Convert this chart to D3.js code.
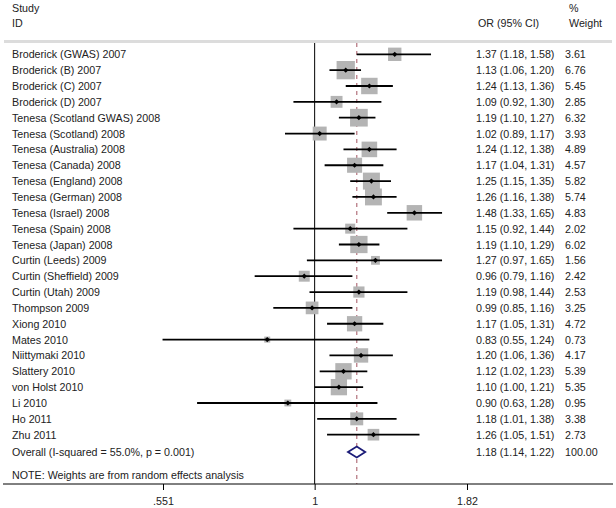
<!DOCTYPE html>
<html><head><meta charset="utf-8">
<script src="https://cdn.jsdelivr.net/npm/d3@7/dist/d3.min.js"></script>
<style>
body{margin:0;background:#fff;}
text{font-family:"Liberation Sans",Arial,sans-serif;font-size:10.7px;fill:#222;}
</style></head>
<body><svg id="c" width="616" height="508"></svg>
<script>
const studies = ["Broderick (GWAS) 2007","Broderick (B) 2007","Broderick (C) 2007","Broderick (D) 2007","Tenesa (Scotland GWAS) 2008","Tenesa (Scotland) 2008","Tenesa (Australia) 2008","Tenesa (Canada) 2008","Tenesa (England) 2008","Tenesa (German) 2008","Tenesa (Israel) 2008","Tenesa (Spain) 2008","Tenesa (Japan) 2008","Curtin (Leeds) 2009","Curtin (Sheffield) 2009","Curtin (Utah) 2009","Thompson 2009","Xiong 2010","Mates 2010","Niittymaki 2010","Slattery 2010","von Holst 2010","Li 2010","Ho 2011","Zhu 2011"];
const or  = [1.37,1.13,1.24,1.09,1.19,1.02,1.24,1.17,1.25,1.26,1.48,1.15,1.19,1.27,0.96,1.19,0.99,1.17,0.83,1.20,1.12,1.10,0.90,1.18,1.26];
const lo  = [1.18,1.06,1.13,0.92,1.10,0.89,1.12,1.04,1.15,1.16,1.33,0.92,1.10,0.97,0.79,0.98,0.85,1.05,0.55,1.06,1.02,1.00,0.63,1.01,1.05];
const hi  = [1.58,1.20,1.36,1.30,1.27,1.17,1.38,1.31,1.35,1.38,1.65,1.44,1.29,1.65,1.16,1.44,1.16,1.31,1.24,1.36,1.23,1.21,1.28,1.38,1.51];
const weight = [3.61,6.76,5.45,2.85,6.32,3.93,4.89,4.57,5.82,5.74,4.83,2.02,6.02,1.56,2.42,2.53,3.25,4.72,0.73,4.17,5.39,5.35,0.95,3.38,2.73];
const overall = {label:"Overall  (I-squared = 55.0%, p = 0.001)", or:1.18, lo:1.14, hi:1.22, weight:"100.00"};
const tickVals = [0.551, 1, 1.82];
const tickLabels = [".551", "1", "1.82"];

const svg = d3.select("#c");
const x = d3.scaleLog().domain([0.551, 1.82]).range([163, 467]);
const y = d3.scalePoint().domain(d3.range(studies.length)).range([54.3, 434.7]);
const yOverall = 452;
const axisY = 484, topY = 43;
const fmt = d3.format(".2f");

// header
svg.append("text").attr("x",12).attr("y",12).text("Study");
svg.append("text").attr("x",12).attr("y",27).text("ID");
svg.append("text").attr("x",478).attr("y",27).text("OR (95% CI)");
svg.append("text").attr("x",569).attr("y",12).text("%");
svg.append("text").attr("x",569).attr("y",27).text("Weight");
svg.append("line").attr("x1",4).attr("x2",612).attr("y1",41.5).attr("y2",41.5)
  .attr("stroke","#dcdcdc").attr("stroke-width",3);

// reference lines
svg.append("line").attr("x1",x(1)).attr("x2",x(1)).attr("y1",topY).attr("y2",axisY)
  .attr("stroke","#000").attr("stroke-width",1);
svg.append("line").attr("x1",x(overall.or)).attr("x2",x(overall.or)).attr("y1",topY).attr("y2",axisY)
  .attr("stroke","#b87c86").attr("stroke-width",1.3).attr("stroke-dasharray","4,4");

// boxes
const side = w => 7.04*Math.sqrt(w);
const g = svg.append("g");
g.selectAll("rect.box").data(studies).join("rect").attr("class","box")
  .attr("x",(d,i)=>x(or[i])-side(weight[i])/2).attr("y",(d,i)=>y(i)-side(weight[i])/2)
  .attr("width",(d,i)=>side(weight[i])).attr("height",(d,i)=>side(weight[i]))
  .attr("fill","#b4b4b4");
g.selectAll("line.ci").data(studies).join("line").attr("class","ci")
  .attr("x1",(d,i)=>x(lo[i])).attr("x2",(d,i)=>x(hi[i]))
  .attr("y1",(d,i)=>y(i)).attr("y2",(d,i)=>y(i))
  .attr("stroke","#000").attr("stroke-width",1.8);
g.selectAll("path.pt").data(studies).join("path").attr("class","pt")
  .attr("d",(d,i)=>{const cx=x(or[i]), cy=y(i), r=2.6; return `M${cx},${cy-r}L${cx+r},${cy}L${cx},${cy+r}L${cx-r},${cy}Z`;})
  .attr("fill","#000");

// text columns
g.selectAll("text.name").data(studies).join("text").attr("class","name")
  .attr("x",12).attr("y",(d,i)=>y(i)+4).text(d=>d);
g.selectAll("text.or").data(studies).join("text").attr("class","or")
  .attr("x",476).attr("y",(d,i)=>y(i)+4).text((d,i)=>`${fmt(or[i])} (${fmt(lo[i])}, ${fmt(hi[i])})`);
g.selectAll("text.w").data(studies).join("text").attr("class","w")
  .attr("x",565).attr("y",(d,i)=>y(i)+4).text((d,i)=>fmt(weight[i]));

// overall
const dx1=x(overall.lo), dx2=x(overall.hi), dxm=x(overall.or);
svg.append("path").attr("d",`M${dx1},${yOverall}L${dxm},${yOverall-5.5}L${dx2},${yOverall}L${dxm},${yOverall+5.5}Z`)
  .attr("fill","#fff").attr("stroke","#1c1c78").attr("stroke-width",1.8);
svg.append("text").attr("x",12).attr("y",yOverall+4).text(overall.label);
svg.append("text").attr("x",476).attr("y",yOverall+4).text(`${fmt(overall.or)} (${fmt(overall.lo)}, ${fmt(overall.hi)})`);
svg.append("text").attr("x",565).attr("y",yOverall+4).text(overall.weight);

svg.append("text").attr("x",12).attr("y",479).text("NOTE: Weights are from random effects analysis");

// axis
svg.append("line").attr("x1",3).attr("x2",613).attr("y1",axisY).attr("y2",axisY).attr("stroke","#000").attr("stroke-width",1);
const ax = svg.append("g").attr("transform",`translate(0,${axisY})`)
  .call(d3.axisBottom(x).tickValues(tickVals).tickFormat((d,i)=>tickLabels[i]).tickSize(6).tickPadding(7));
ax.select(".domain").remove();
ax.selectAll("line").attr("stroke","#000");
ax.selectAll("text").attr("font-family","Liberation Sans, Arial, sans-serif").attr("font-size","10.7px").attr("fill","#222");
</script></body></html>
